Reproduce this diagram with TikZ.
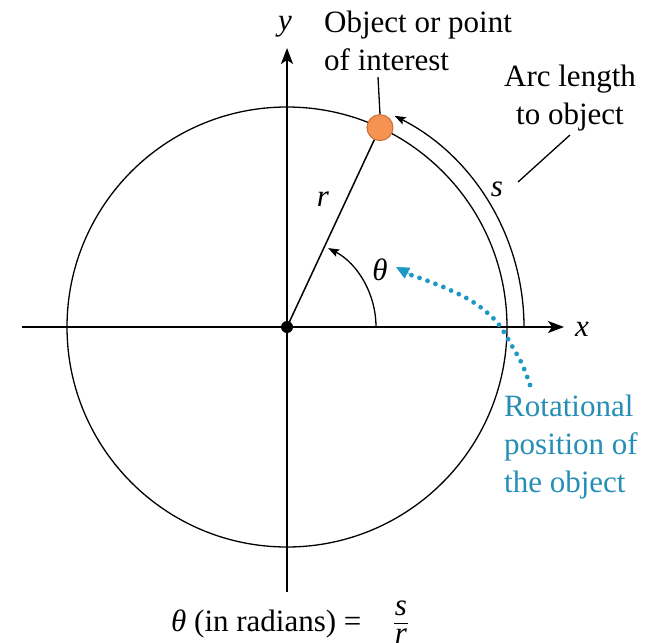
\documentclass[tikz,border=0pt]{standalone}
\usepackage{fontspec}
\setmainfont{Liberation Serif}
\usetikzlibrary{arrows.meta}
\definecolor{objorange}{RGB}{245,148,82}
\definecolor{objedge}{RGB}{205,105,50}
\definecolor{dotblue}{RGB}{28,152,196}
\definecolor{txtblue}{RGB}{38,142,182}
\begin{document}
\begin{tikzpicture}[x=1pt,y=1pt,
  font=\fontsize{31}{38}\selectfont,
  lbl/.style={inner sep=0pt},
  ital/.style={inner sep=0pt,font=\fontsize{31}{38}\selectfont\itshape},
  axis/.style={line width=2pt,-{Stealth[length=16pt,width=12pt,inset=4pt]}},
  thinline/.style={line width=1.3pt},
  smallarrow/.style={line width=1.3pt,-{Stealth[length=11pt,width=8pt,inset=2pt]}},
  objdot/.style={circle,fill=objorange,draw=objedge,line width=1pt,minimum size=26pt,inner sep=0pt},
  dotted path/.style={dotblue,line width=4.8pt,line cap=round,dash pattern=on 0pt off 8.5pt}
]
\useasboundingbox (0,0) rectangle (660,-642);
\coordinate (O) at (287,-327);
% circle
\draw[thinline] (O) circle[radius=220pt];
% axes
\coordinate (xl) at (22,-327);
\coordinate (xr) at (564,-327);
\coordinate (yb) at (287,-592);
\coordinate (yt) at (287,-48);
\draw[axis] (xl) -- (xr);
\draw[axis] (yb) -- (yt);
\node[ital] (xlab) at (582,-329) {x};
\node[ital] (ylab) at (285,-27) {y};
% arcs
\draw[smallarrow] ([shift={(0:237pt)}]O) arc[start angle=0,end angle=63,radius=237pt];
\draw[smallarrow] ([shift={(0:89pt)}]O) arc[start angle=0,end angle=62.5,radius=89pt];
% object
\node[objdot] (obj) at ([shift={(65:220pt)}]O) {};
\draw[line width=1.5pt] (O) -- (obj);
\fill (O) circle[radius=6pt];
% labels
\node[ital] (rlab) at (323,-199) {r};
\node[ital] (thlab) at (380,-270) {θ};
\node[ital] (slab) at (497,-189) {s};
% object label
\node[lbl,align=left,anchor=west] (objtxt) at (324,-41) {Object or point\\of interest};
\coordinate (objlead) at (378,-77);
\draw[thinline] (obj.north) -- (objlead);
% arc length label
\node[lbl,align=center] (arctxt) at (570,-98) {Arc length\\to object};
\coordinate (arcleadA) at (570,-135);
\coordinate (arcleadB) at (518,-182);
\draw[thinline] (arcleadA) -- (arcleadB);
% rotational position
\node[lbl,align=left,anchor=west,text=txtblue] (rot) at (504,-447) {Rotational\\position of\\the object};
\coordinate (dotS) at (530,-385);
\coordinate (dotE) at (411,-275);
\coordinate (tipE) at (396,-267);
\draw[dotted path] plot[smooth,tension=0.7] coordinates {(dotS) (522,-364) (512,-346) (502,-329) (492,-317) (473,-302) (450,-290) (428,-281) (dotE)};
\draw[dotblue,line width=0.5pt,-{Triangle[length=13pt,width=12pt]}] (dotE) -- (tipE);
% formula
\node[lbl,anchor=base west] (formula) at (171,-631) {\textit{θ} (in radians) =};
\node[ital] (frac) at (401,-621) {\fontsize{31}{28}\selectfont\setlength{\arrayrulewidth}{1.2pt}\setlength{\tabcolsep}{1pt}%
  \begin{tabular}{c}s\\[-1.4pt]\hline r\\[-6pt]\end{tabular}};
\end{tikzpicture}
\end{document}
